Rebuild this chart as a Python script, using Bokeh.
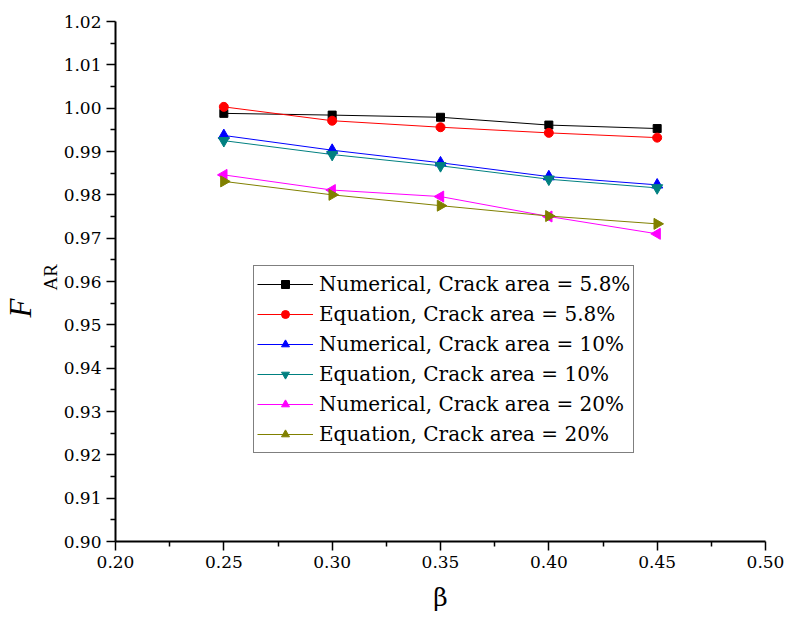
import math
from bokeh.plotting import figure
from bokeh.models import FixedTicker, PrintfTickFormatter, Range1d, Title, Legend, LegendItem
from bokeh.embed import file_html
from bokeh.resources import INLINE

# ---- data ----
beta = [0.25, 0.30, 0.35, 0.40, 0.45]
num_58 = [0.9988, 0.9984, 0.9979, 0.9961, 0.9953]
eq_58 = [1.0003, 0.9971, 0.9956, 0.9943, 0.9932]
num_10 = [0.9937, 0.9903, 0.9874, 0.9842, 0.9823]
eq_10 = [0.9925, 0.9893, 0.9867, 0.9836, 0.9816]
num_20 = [0.9846, 0.9811, 0.9796, 0.9750, 0.9710]
eq_20 = [0.9831, 0.9800, 0.9775, 0.9751, 0.9733]

labels = [
    "Numerical, Crack area = 5.8%",
    "Equation, Crack area = 5.8%",
    "Numerical, Crack area = 10%",
    "Equation, Crack area = 10%",
    "Numerical, Crack area = 20%",
    "Equation, Crack area = 20%",
]
x_ticks = [0.20, 0.25, 0.30, 0.35, 0.40, 0.45, 0.50]
y_ticks = [0.90, 0.91, 0.92, 0.93, 0.94, 0.95, 0.96, 0.97, 0.98, 0.99, 1.00, 1.01, 1.02]

SERIF = "DejaVu Serif"
TITLE_FONT = "Times New Roman"

p = figure(
    frame_width=650, frame_height=520,
    min_border_left=112, min_border_right=21, min_border_top=21, min_border_bottom=77,
    output_backend="svg", toolbar_location=None,
    x_range=Range1d(0.20, 0.50), y_range=Range1d(0.90, 1.02),
)
p.outline_line_color = None
p.xgrid.visible = False
p.ygrid.visible = False
p.background_fill_color = "white"
p.border_fill_color = "white"

x_minor = [round(0.225 + 0.05 * i, 3) for i in range(6)]
y_minor = [round(0.905 + 0.01 * i, 3) for i in range(12)]
p.xaxis.ticker = FixedTicker(ticks=x_ticks, minor_ticks=x_minor)
p.yaxis.ticker = FixedTicker(ticks=y_ticks, minor_ticks=y_minor)
p.xaxis.formatter = PrintfTickFormatter(format="%.2f")
p.yaxis.formatter = PrintfTickFormatter(format="%.2f")

for ax in (p.xaxis[0], p.yaxis[0]):
    ax.axis_line_width = 2
    ax.axis_line_color = "black"
    ax.major_tick_line_width = 1.5
    ax.minor_tick_line_width = 1.5
    ax.major_tick_line_color = "black"
    ax.minor_tick_line_color = "black"
    ax.major_tick_in = 0
    ax.major_tick_out = 9
    ax.minor_tick_in = 0
    ax.minor_tick_out = 5
    ax.major_label_text_font = SERIF
    ax.major_label_text_font_size = "17px"
    ax.major_label_text_font_style = "normal"
    ax.major_label_text_color = "black"
    ax.major_label_standoff = 5

p.xaxis.axis_label = "β"
p.xaxis.axis_label_text_font = SERIF
p.xaxis.axis_label_text_font_size = "25px"
p.xaxis.axis_label_text_font_style = "normal"
p.xaxis.axis_label_text_color = "black"
p.xaxis.axis_label_standoff = 12

# y axis label F_AR as two side titles (subscript closer to the axis)
p.add_layout(Title(text="AR", text_font=TITLE_FONT, text_font_size="19px",
                   text_font_style="normal", text_color="black",
                   align="left", offset=251, standoff=0), "left")
p.add_layout(Title(text="F", text_font=TITLE_FONT, text_font_size="31px",
                   text_font_style="italic", text_color="black",
                   align="left", offset=224, standoff=0), "left")

series = [
    (num_58, "black", "square", 0, 8),
    (eq_58, "red", "circle", 0, 9),
    (num_10, "blue", "triangle", 0, 11),
    (eq_10, "#008080", "inverted_triangle", 0, 11),
    (num_20, "magenta", "triangle", math.pi / 2, 11),
    (eq_20, "#808000", "triangle", -math.pi / 2, 11),
]

items = []
for (vals, color, marker, ang, size), lab in zip(series, labels):
    l = p.line(beta, vals, line_color=color, line_width=1)
    s = p.scatter(beta, vals, marker=marker, angle=ang, size=size,
                  fill_color=color, line_color=color)
    items.append(LegendItem(label=lab, renderers=[l, s]))

legend = Legend(items=items, location=(138, 88))
legend.label_text_font = SERIF
legend.label_text_font_style = "normal"
legend.label_text_font_size = "20px"
legend.label_text_color = "black"
legend.glyph_width = 56
legend.glyph_height = 20
legend.label_height = 30
legend.label_standoff = 6
legend.spacing = 0
legend.padding = 3
legend.margin = 0
legend.border_line_color = "black"
legend.border_line_width = 1
legend.background_fill_color = "white"
legend.background_fill_alpha = 1
p.add_layout(legend, "center")

open("out.html", "w").write(file_html(p, INLINE))
